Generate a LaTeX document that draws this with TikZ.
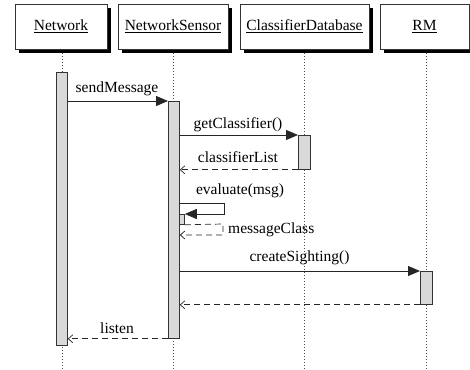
\documentclass[tikz,border=0pt]{standalone}
\usepackage{fontspec}
\setmainfont{Liberation Serif}
\usetikzlibrary{arrows.meta}
\begin{document}
\begin{tikzpicture}[x=1pt,y=-1pt,
  every node/.style={font=\fontsize{15.5}{18}\selectfont, inner sep=0pt},
  objbox/.style={draw=black!80, line width=0.7pt, fill=white, minimum height=45pt},
  shadowbox/.style={fill=black, draw=none, minimum height=45pt},
  lifeline/.style={draw=black!70, line width=0.6pt, dash pattern=on 0.7pt off 2.3pt},
  actbar/.style={draw=black!80, fill=black!15, line width=0.8pt},
  callmsg/.style={draw=black!85, line width=0.8pt, -{Triangle[length=12pt,width=10pt]}},
  retmsg/.style={draw=black!85, line width=0.7pt, dash pattern=on 6pt off 4pt, -{Straight Barb[length=4.5pt,width=8pt]}},
  lbl/.style={anchor=base}
]
\useasboundingbox (0,0) rectangle (470,369);

% shadows of the object boxes
\node[shadowbox, minimum width=92pt] (netsh) at (65,30.5) {};
\node[shadowbox, minimum width=110pt] (nssh) at (177,30.5) {};
\node[shadowbox, minimum width=129pt] (cdsh) at (308.5,30.5) {};
\node[shadowbox, minimum width=89pt] (rmsh) at (428.5,30.5) {};

% object boxes
\node[objbox, minimum width=92pt] (net) at (61,26.5) {\underline{Network}};
\node[objbox, minimum width=110pt] (ns) at (173,26.5) {\underline{NetworkSensor}};
\node[objbox, minimum width=129pt] (cd) at (304.5,26.5) {\underline{ClassifierDatabase}};
\node[objbox, minimum width=89pt] (rm) at (424.5,26.5) {\underline{RM}};

% lifeline ends
\coordinate (netend) at (62,369);
\coordinate (nsend) at (173,369);
\coordinate (cdend) at (304,369);
\coordinate (rmend) at (426,369);
\draw[lifeline] (62,53) -- (netend);
\draw[lifeline] (173,53) -- (nsend);
\draw[lifeline] (304,53) -- (cdend);
\draw[lifeline] (426,53) -- (rmend);

% activation bars
\node[actbar, minimum width=11pt, minimum height=273pt, anchor=north west] (netbar) at (56,72) {};
\node[actbar, minimum width=11pt, minimum height=237pt, anchor=north west] (nsbar) at (168,101) {};
\node[actbar, minimum width=12pt, minimum height=34pt, anchor=north west] (cdbar) at (298,135) {};
\node[actbar, minimum width=5pt, minimum height=10pt, anchor=north west] (evbar) at (179,214) {};
\node[actbar, minimum width=12pt, minimum height=33pt, anchor=north west] (rmbar) at (420,271) {};

% sendMessage
\draw[callmsg] (netbar.east |- nsbar.north) -- (nsbar.north west);
\node[lbl] (l1) at (117,92) {sendMessage};

% getClassifier
\draw[callmsg] (nsbar.east |- cdbar.north) -- (cdbar.north west);
\node[lbl] (l2) at (238,128.5) {getClassifier()};
\draw[retmsg] (cdbar.south west) -- (nsbar.east |- cdbar.south);
\node[lbl] (l3) at (238,162.7) {classifierList};

% evaluate(msg) self call
\coordinate (ev1) at (224,203);
\coordinate (ev2) at (224,214);
\draw[callmsg] (nsbar.east |- ev1) -- (ev1) -- (ev2) -- (evbar.north east);
\node[lbl] (l4) at (240,194) {evaluate(msg)};
\coordinate (mc1) at (223,224);
\coordinate (mc2) at (223,235);
\draw[retmsg] (evbar.south east) -- (mc1) -- (mc2) -- (nsbar.east |- mc2);
\node[anchor=base west] (l5) at (228,233.3) {messageClass};

% createSighting
\draw[callmsg] (nsbar.east |- rmbar.north) -- (rmbar.north west);
\node[lbl] (l6) at (299.5,261.7) {createSighting()};
\draw[retmsg] (rmbar.south west) -- (nsbar.east |- rmbar.south);

% listen
\draw[retmsg] (nsbar.south west) -- (netbar.east |- nsbar.south);
\node[lbl] (l7) at (117,333.3) {listen};
\end{tikzpicture}
\end{document}
